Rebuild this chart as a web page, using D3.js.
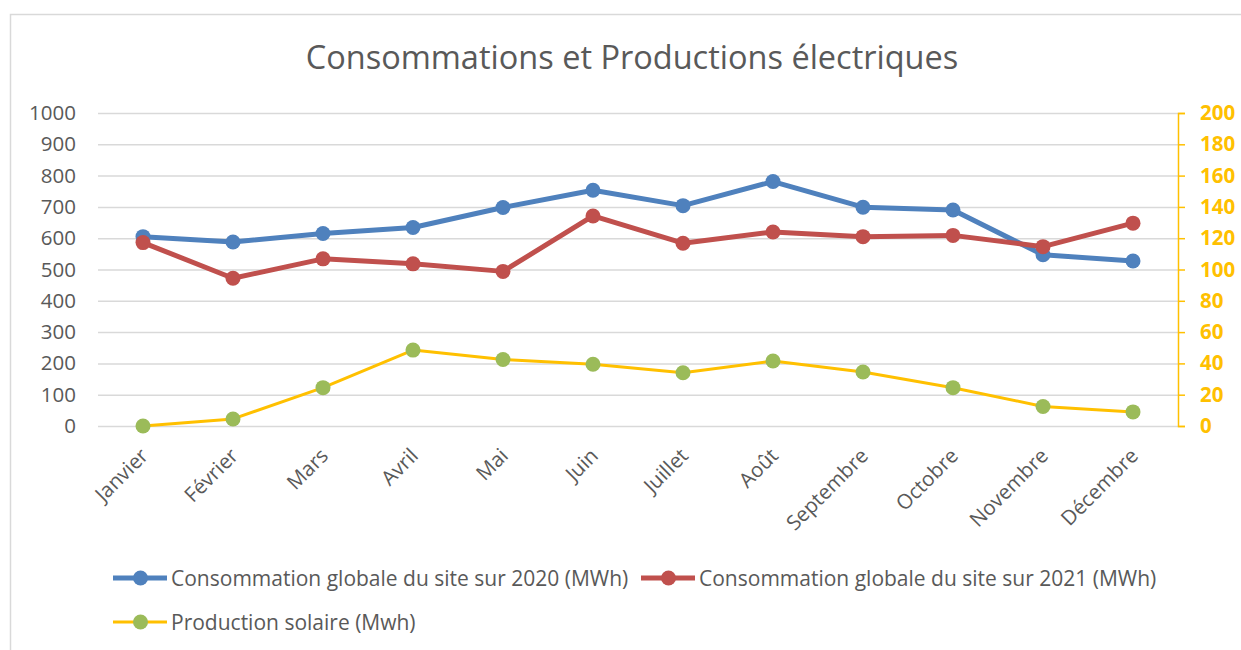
<!DOCTYPE html>
<html lang="fr">
<head>
<meta charset="utf-8">
<script src="https://cdn.jsdelivr.net/npm/d3@7"></script>
<style>
  html, body { margin: 0; padding: 0; background: #fff; }
  svg { display: block; font-family: "Open Sans", "Noto Sans", sans-serif; }
</style>
</head>
<body>
<svg id="chart" width="1241" height="650"></svg>
<script>
// Monthly data
const months = ["Janvier", "Février", "Mars", "Avril", "Mai", "Juin", "Juillet", "Août", "Septembre", "Octobre", "Novembre", "Décembre"];
const conso2020 = [605, 588, 615, 634, 698, 753, 704, 781, 699, 690, 547, 527];
const conso2021 = [586, 472, 534, 518, 494, 671, 584, 620, 605, 609, 573, 648];
const solaire = [0, 4.5, 24.5, 48.5, 42.5, 39.5, 34, 41.5, 34.5, 24.5, 12.5, 9];
const leftTicks = [0, 100, 200, 300, 400, 500, 600, 700, 800, 900, 1000];
const rightTicks = [0, 20, 40, 60, 80, 100, 120, 140, 160, 180, 200];
const titleText = "Consommations et Productions électriques";
const legendLabels = ["Consommation globale du site sur 2020 (MWh)", "Consommation globale du site sur 2021 (MWh)", "Production solaire (Mwh)"];

const BLUE = "#4F81BD", RED = "#C0504D", YELLOW = "#FFC000", GREEN = "#9BBB59";
const TEXT = "#595959", GRID = "#d9d9d9";

const svg = d3.select("#chart");

// chart frame
svg.append("rect")
  .attr("x", 10.5).attr("y", 14.5)
  .attr("width", 1250).attr("height", 700)
  .attr("fill", "none").attr("stroke", GRID).attr("stroke-width", 1.5);

const plot = { left: 98, right: 1178, top: 113, bottom: 426 };

const x = d3.scalePoint().domain(months).range([plot.left, plot.right]).padding(0.5);
const yL = d3.scaleLinear().domain([0, 1000]).range([plot.bottom, plot.top]);
const yR = d3.scaleLinear().domain([0, 200]).range([plot.bottom, plot.top]);

// title
svg.append("text")
  .attr("x", 632).attr("y", 69)
  .attr("text-anchor", "middle")
  .attr("fill", TEXT)
  .attr("font-size", 32.5)
  .text(titleText);

// gridlines + left axis labels
const gLeft = svg.append("g").attr("transform", `translate(${plot.left},0)`)
  .call(d3.axisLeft(yL).tickValues(leftTicks).tickFormat(d3.format("d"))
    .tickSize(-(plot.right - plot.left)).tickPadding(22));
gLeft.select(".domain").remove();
gLeft.selectAll(".tick line").attr("stroke", GRID).attr("stroke-width", 1.5);
gLeft.selectAll(".tick text").attr("fill", TEXT).attr("font-size", 20.5).attr("font-family", "Open Sans");

// right axis
const gRight = svg.append("g").attr("transform", `translate(${plot.right},0)`)
  .call(d3.axisRight(yR).tickValues(rightTicks).tickFormat(d3.format("d"))
    .tickSize(7).tickSizeOuter(7).tickPadding(15));
gRight.select(".domain").attr("stroke", YELLOW).attr("stroke-width", 1.5);
gRight.selectAll(".tick line").attr("stroke", YELLOW).attr("stroke-width", 1.5);
gRight.selectAll(".tick text").attr("fill", YELLOW).attr("font-size", 20.5)
  .attr("font-weight", "bold").attr("font-family", "Open Sans");

// category labels, rotated
const gX = svg.append("g").attr("transform", `translate(0,${plot.bottom})`)
  .call(d3.axisBottom(x).tickSize(0).tickPadding(0));
gX.select(".domain").remove();
gX.selectAll(".tick text")
  .attr("fill", TEXT).attr("font-size", 20.5).attr("font-family", "Open Sans")
  .attr("text-anchor", "end")
  .attr("dy", null).attr("y", null)
  .attr("transform", "translate(6,31) rotate(-45)");

// series
const lineL = d3.line().x((d, i) => x(months[i])).y(d => yL(d));
const lineR = d3.line().x((d, i) => x(months[i])).y(d => yR(d));

function drawSeries(values, line, yScale, stroke, width, marker, r) {
  const g = svg.append("g");
  g.append("path").datum(values)
    .attr("d", line).attr("fill", "none")
    .attr("stroke", stroke).attr("stroke-width", width)
    .attr("stroke-linejoin", "round").attr("stroke-linecap", "round");
  g.selectAll("circle").data(values).join("circle")
    .attr("cx", (d, i) => x(months[i])).attr("cy", d => yScale(d))
    .attr("r", r).attr("fill", marker);
}

drawSeries(solaire, lineR, yR, YELLOW, 3, GREEN, 7.5);
drawSeries(conso2020, lineL, yL, BLUE, 5, BLUE, 7.5);
drawSeries(conso2021, lineL, yL, RED, 5, RED, 7.5);

// legend
const legendItems = [
  { label: legendLabels[0], stroke: BLUE, marker: BLUE, w: 5, x: 113, y: 578 },
  { label: legendLabels[1], stroke: RED, marker: RED, w: 5, x: 641, y: 578 },
  { label: legendLabels[2], stroke: YELLOW, marker: GREEN, w: 3, x: 113, y: 622 }
];
const lg = svg.append("g").selectAll("g").data(legendItems).join("g")
  .attr("transform", d => `translate(${d.x},${d.y})`);
lg.append("line").attr("x1", 0).attr("x2", 54).attr("y1", 0).attr("y2", 0)
  .attr("stroke", d => d.stroke).attr("stroke-width", d => d.w);
lg.append("circle").attr("cx", 27.5).attr("cy", 0).attr("r", 7.5).attr("fill", d => d.marker);
lg.append("text").attr("x", 58).attr("y", 7.5)
  .attr("fill", TEXT).attr("font-size", 21)
  .text(d => d.label);
</script>
</body>
</html>
